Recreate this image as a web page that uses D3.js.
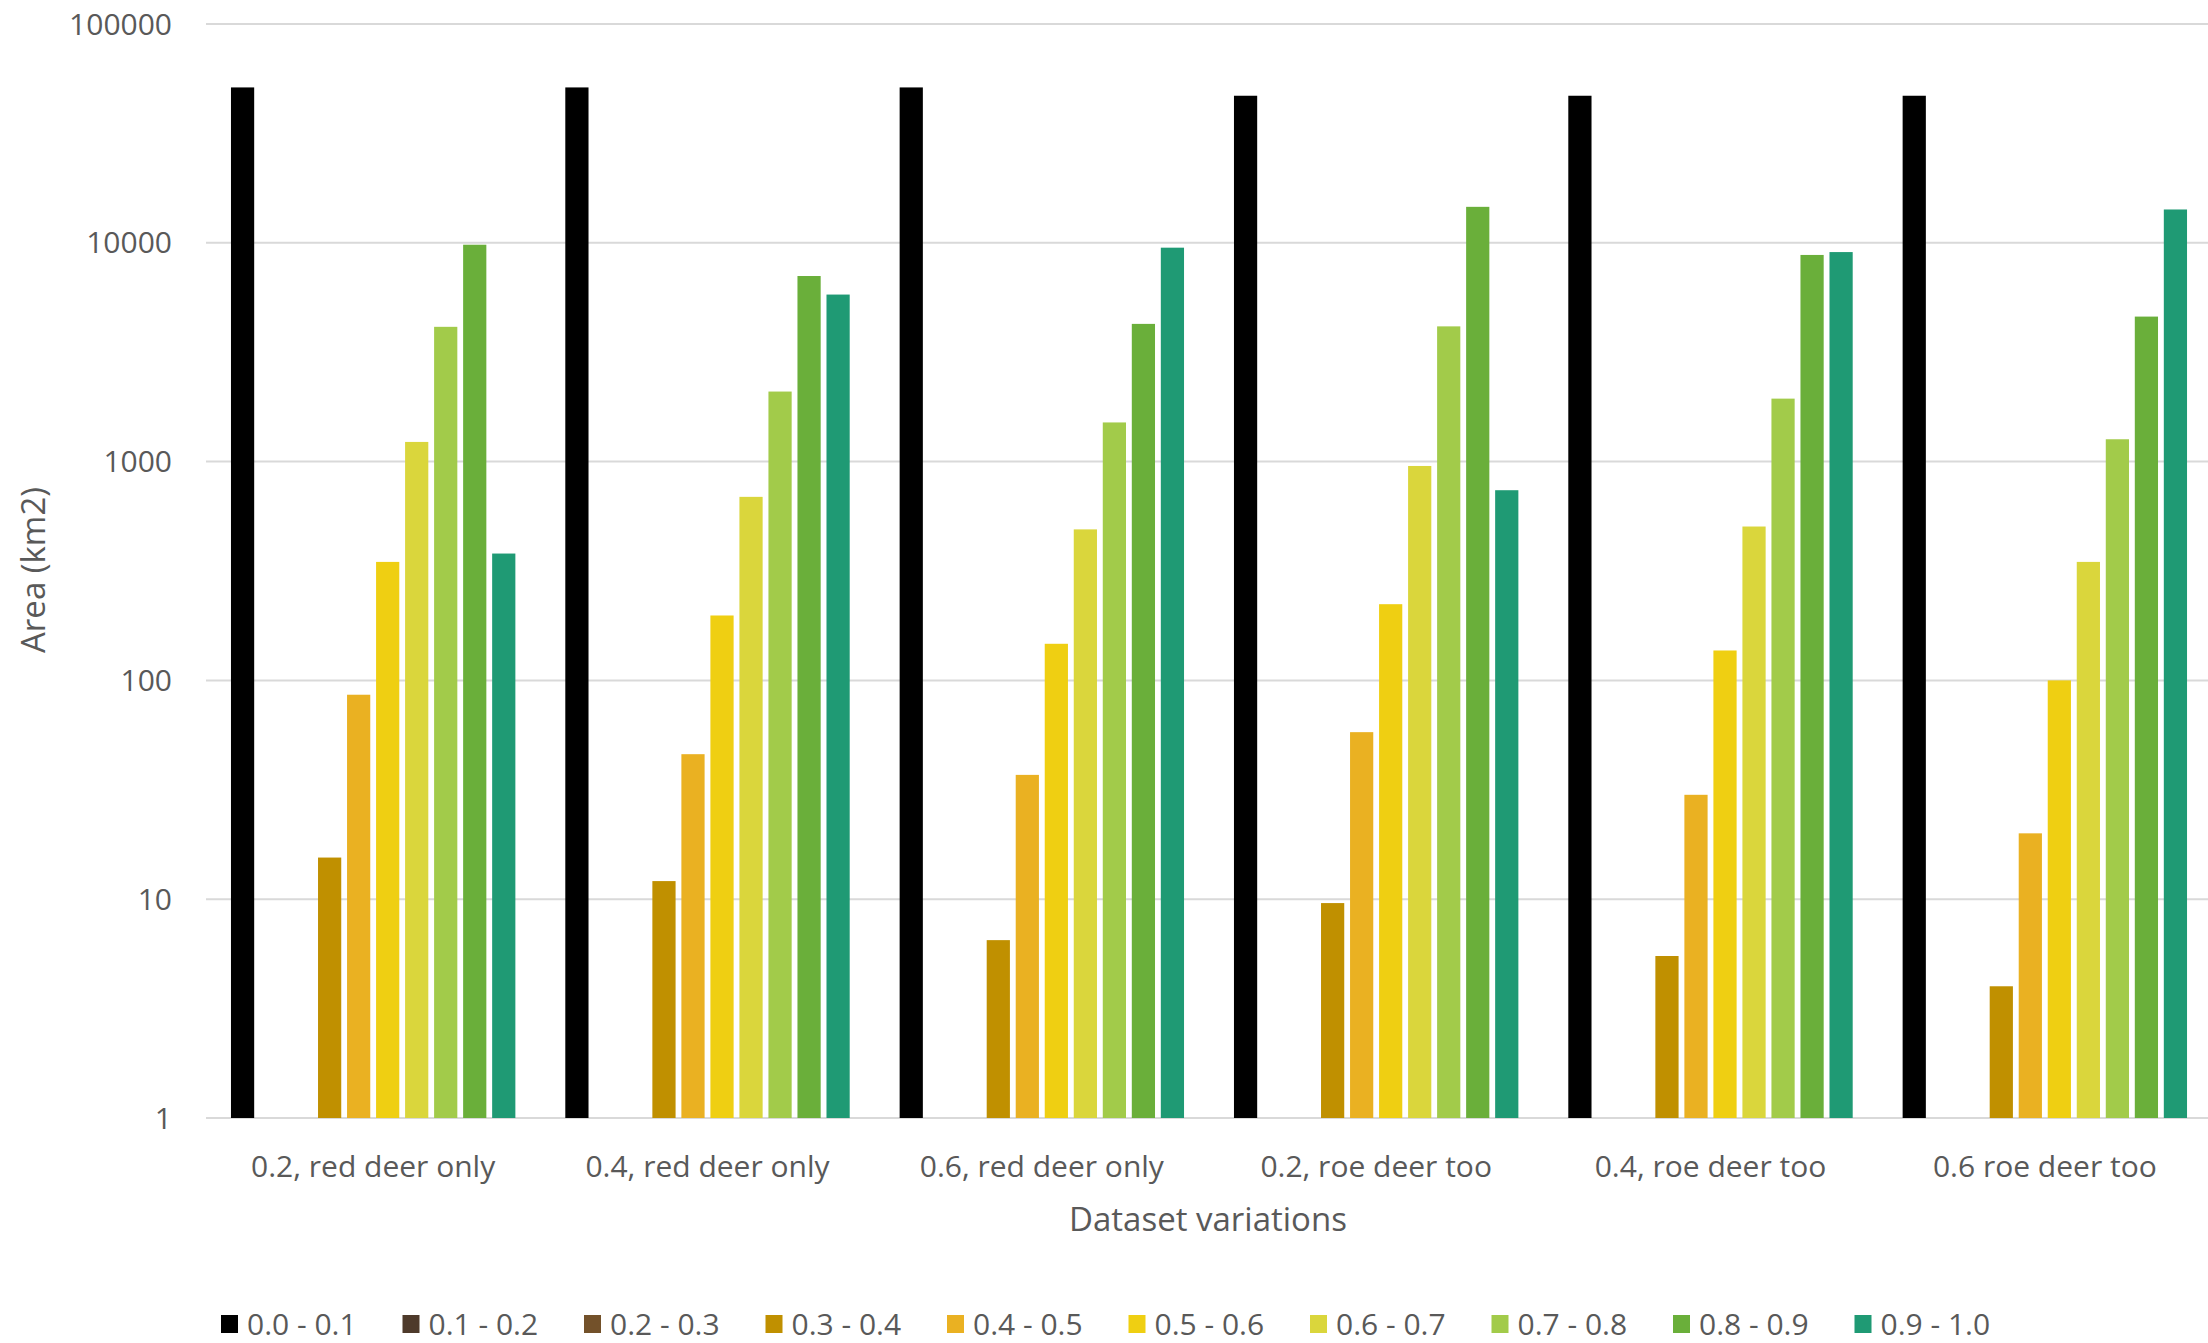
<!DOCTYPE html>
<html>
<head>
<meta charset="utf-8">
<script src="https://cdn.jsdelivr.net/npm/d3@7"></script>
<style>
  body { margin: 0; background: #fff; }
  svg { display: block; font-family: "Open Sans", "Noto Sans", sans-serif; }
</style>
</head>
<body>
<div id="chart"></div>
<script>
// dataset variations (x categories)
const groups = ["0.2, red deer only", "0.4, red deer only", "0.6, red deer only",
                "0.2, roe deer too", "0.4, roe deer too", "0.6 roe deer too"];

// suitability classes (series)
const classes = ["0.0 - 0.1", "0.1 - 0.2", "0.2 - 0.3", "0.3 - 0.4", "0.4 - 0.5",
                 "0.5 - 0.6", "0.6 - 0.7", "0.7 - 0.8", "0.8 - 0.9", "0.9 - 1.0"];

const colors = ["#000000", "#4e3a2b", "#73512a", "#c09000", "#eab122",
                "#efcf12", "#dad63c", "#a2cb4a", "#6aaf3a", "#1f9a74"];

// area (km2) per class, one array per dataset variation; null = no bar
const red02 = [51300, null, null, 15.5, 86, 348, 1230, 4130, 9800, 380];
const red04 = [51300, null, null, 12.1, 46, 198, 690, 2090, 7050, 5800];
const red06 = [51300, null, null, 6.5, 37, 147, 490, 1510, 4260, 9500];
const roe02 = [47000, null, null, 9.6, 58, 223, 955, 4150, 14600, 740];
const roe04 = [47000, null, null, 5.5, 30, 137, 505, 1940, 8800, 9070];
const roe06 = [47000, null, null, 4.0, 20, 100, 348, 1265, 4600, 14200];
const values = [red02, red04, red06, roe02, roe04, roe06];

const yTicks = [1, 10, 100, 1000, 10000, 100000];

const width = 2208, height = 1343;
const margin = {top: 24, right: -4, bottom: 225, left: 206};

const svg = d3.select("#chart").append("svg")
    .attr("width", width)
    .attr("height", height);

const x = d3.scaleBand()
    .domain(groups)
    .range([margin.left, width - margin.right])
    .paddingInner(0)
    .paddingOuter(0);

const gapFrac = 0.066;
const xInner = d3.scaleBand()
    .domain(classes)
    .range([x.bandwidth() * gapFrac, x.bandwidth() * (1 - gapFrac)])
    .paddingInner(0.2)
    .paddingOuter(0.1);

const y = d3.scaleLog()
    .domain([1, 100000])
    .range([height - margin.bottom, margin.top]);

// gridlines
svg.append("g")
    .selectAll("line")
    .data(yTicks)
    .join("line")
    .attr("x1", margin.left)
    .attr("x2", width)
    .attr("y1", d => y(d))
    .attr("y2", d => y(d))
    .attr("stroke", "#d9d9d9")
    .attr("stroke-width", 2);

// y tick labels
svg.append("g")
    .selectAll("text")
    .data(yTicks)
    .join("text")
    .attr("x", 172)
    .attr("y", d => y(d))
    .attr("dy", "0.35em")
    .attr("text-anchor", "end")
    .attr("fill", "#595959")
    .attr("font-size", 30)
    .text(d => d);

// bars
const groupG = svg.append("g")
    .selectAll("g")
    .data(groups)
    .join("g")
    .attr("transform", d => `translate(${x(d)},0)`);

groupG.selectAll("rect")
    .data((g, gi) => classes.map((c, ci) => ({cls: c, ci: ci, v: values[gi][ci]})).filter(d => d.v != null))
    .join("rect")
    .attr("x", d => xInner(d.cls))
    .attr("width", xInner.bandwidth())
    .attr("y", d => y(d.v))
    .attr("height", d => y(1) - y(d.v))
    .attr("fill", d => colors[d.ci]);

// x labels
svg.append("g")
    .selectAll("text")
    .data(groups)
    .join("text")
    .attr("x", d => x(d) + x.bandwidth() / 2)
    .attr("y", 1166)
    .attr("dy", "0.35em")
    .attr("text-anchor", "middle")
    .attr("fill", "#595959")
    .attr("font-size", 30)
    .text(d => d);

// axis titles
svg.append("text")
    .attr("x", 1208)
    .attr("y", 1219)
    .attr("dy", "0.35em")
    .attr("text-anchor", "middle")
    .attr("fill", "#595959")
    .attr("font-size", 33)
    .text("Dataset variations");

svg.append("text")
    .attr("transform", "translate(33,570) rotate(-90)")
    .attr("dy", "0.35em")
    .attr("text-anchor", "middle")
    .attr("fill", "#595959")
    .attr("font-size", 33)
    .text("Area (km2)");

// legend
const legend = svg.append("g")
    .selectAll("g")
    .data(classes)
    .join("g")
    .attr("transform", (d, i) => `translate(${221 + i * 181.5},1324)`);

legend.append("rect")
    .attr("x", 0)
    .attr("y", -9)
    .attr("width", 17)
    .attr("height", 18)
    .attr("fill", (d, i) => colors[i]);

legend.append("text")
    .attr("x", 26)
    .attr("y", 0)
    .attr("dy", "0.35em")
    .attr("fill", "#595959")
    .attr("font-size", 30)
    .text(d => d);
</script>
</body>
</html>
